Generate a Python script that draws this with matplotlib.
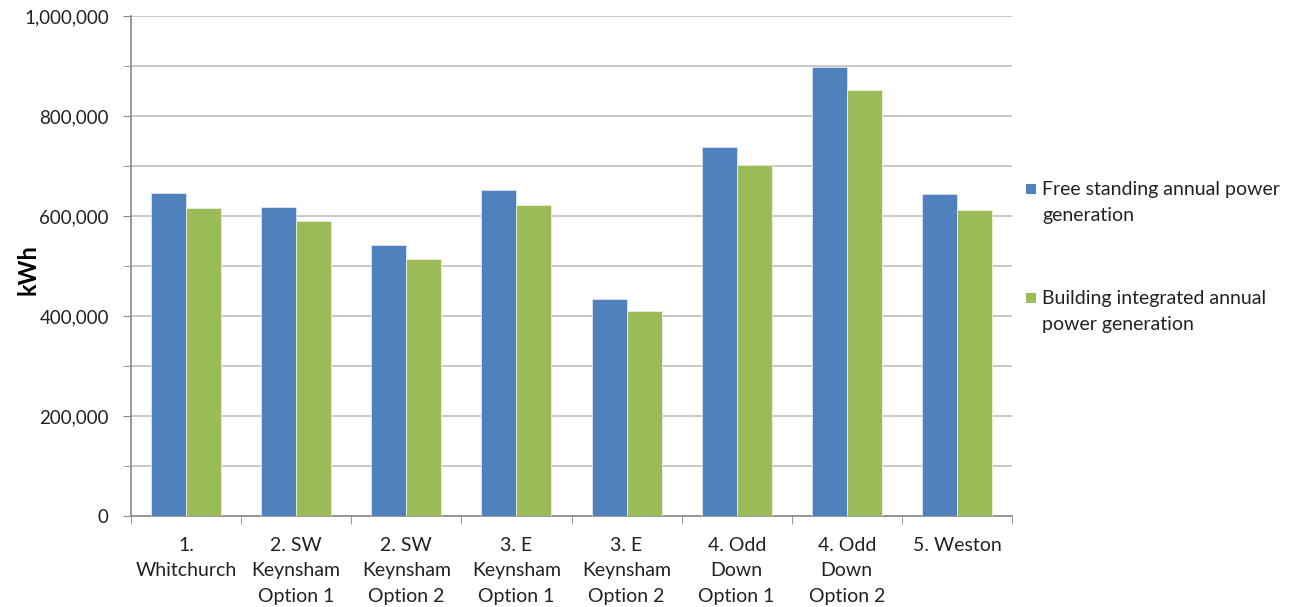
import matplotlib
matplotlib.use("Agg")
import matplotlib.pyplot as plt
import numpy as np
from matplotlib.ticker import FuncFormatter, MultipleLocator
from matplotlib.patches import Rectangle

plt.rcParams['font.family'] = ['Lato', 'DejaVu Sans']

categories = ["1.\nWhitchurch", "2. SW\nKeynsham\nOption 1", "2. SW\nKeynsham\nOption 2",
              "3. E\nKeynsham\nOption 1", "3. E\nKeynsham\nOption 2", "4. Odd\nDown\nOption 1",
              "4. Odd\nDown\nOption 2", "5. Weston"]
free_standing = [646600, 618600, 542000, 652000, 433400, 738600, 897400, 643400]
building_integrated = [615400, 590600, 514000, 621400, 409400, 702000, 852000, 612600]
series_names = ["Free standing annual power\ngeneration",
                "Building integrated annual\npower generation"]
series_colors = ["#4F81BD", "#9BBB59"]

W, H = 1299, 607
fig = plt.figure(figsize=(W / 100, H / 100), dpi=100)
ax = fig.add_axes([131 / W, 1 - 516 / H, 881 / W, 500 / H])

x = np.arange(len(categories))
w = 0.318
ax.bar(x - w / 2, free_standing, w, color=series_colors[0], edgecolor="#dbe5f1",
       linewidth=0.6, zorder=3)
ax.bar(x + w / 2, building_integrated, w, color=series_colors[1], edgecolor="#eaf1dd",
       linewidth=0.6, zorder=3)

ax.set_xlim(-0.5, len(categories) - 0.5)
ax.set_ylim(0, 1000000)
ax.yaxis.set_major_locator(MultipleLocator(200000))
ax.yaxis.set_minor_locator(MultipleLocator(100000))
ax.yaxis.set_major_formatter(FuncFormatter(lambda v, p: f"{int(v):,}"))
ax.grid(axis="y", which="both", color="#c8c8c8", linewidth=1.4, zorder=0)

for s in ["top", "right"]:
    ax.spines[s].set_visible(False)
for s in ["left", "bottom"]:
    ax.spines[s].set_color("#888888")
    ax.spines[s].set_linewidth(1.2)

ax.tick_params(axis="y", which="both", length=6, color="#888888", labelsize=13.5,
               labelcolor="#222222", pad=10)

# category boundary ticks on the x axis
ax.set_xticks(np.arange(-0.5, len(categories)), minor=True)
ax.set_xticks(x)
ax.set_xticklabels(categories, fontsize=14, linespacing=1.6, color="#222222")
ax.tick_params(axis="x", which="major", length=0, pad=15)
ax.tick_params(axis="x", which="minor", length=6, color="#888888")

fig.text(28 / W, 1 - 270 / H, "kWh", fontsize=17, fontweight="bold",
         rotation=90, ha="center", va="center")

# legend: square swatch beside the first line of each two-line entry
for name, color, y_top in zip(series_names, series_colors, [189, 298]):
    fig.patches.append(Rectangle((1026 / W, 1 - (y_top + 5) / H), 10 / W, 10 / H,
                                 transform=fig.transFigure, facecolor=color,
                                 edgecolor="none"))
    fig.text(1042 / W, 1 - (y_top - 8) / H, name, fontsize=14, color="#222222",
             va="top", ha="left", linespacing=1.63)

fig.savefig("out.png", dpi=100)
